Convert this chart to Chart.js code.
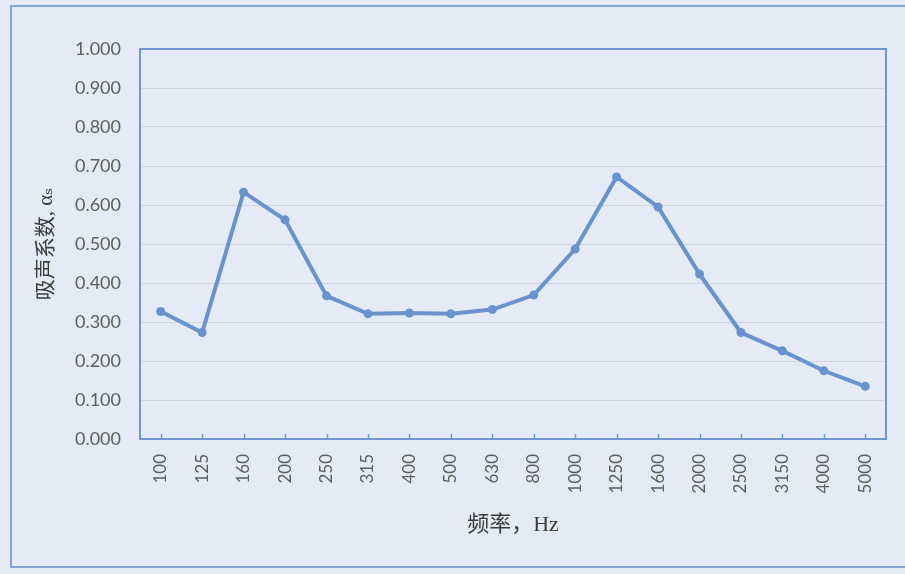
<!DOCTYPE html>
<html>
<head>
<meta charset="utf-8">
<script src="https://cdn.jsdelivr.net/npm/chart.js@4/dist/chart.umd.min.js"></script>
<style>
  html, body { margin: 0; padding: 0; background: #e4ebf7; }
  #wrap { width: 905px; height: 574px; position: relative; }
</style>
</head>
<body>
<div id="wrap"><canvas id="c" width="905" height="574"></canvas></div>
<script>
// ---- data ----
const frequencies = ['100','125','160','200','250','315','400','500','630','800','1000','1250','1600','2000','2500','3150','4000','5000'];
const absorption  = [0.327,0.273,0.633,0.562,0.367,0.321,0.323,0.321,0.332,0.369,0.487,0.672,0.595,0.423,0.273,0.226,0.175,0.135];
const yMin = 0.0, yMax = 1.0, yStep = 0.1;
const yTitle = '吸声系数, αₛ';
const xTitle = '频率，Hz';

const lineColor = '#6a93cd';
const axisColor = '#6f98d0';

const framePlugin = {
  id: 'framePlugin',
  beforeDraw(chart) {
    const ctx = chart.ctx;
    ctx.save();
    ctx.fillStyle = '#e4ebf7';
    ctx.fillRect(0, 0, chart.width, chart.height);
    ctx.strokeStyle = '#82a6d8';
    ctx.lineWidth = 2;
    ctx.strokeRect(11, 6, chart.width, 561);
    ctx.restore();
  },
  afterDatasetsDraw(chart) {
    const ctx = chart.ctx;
    const a = chart.chartArea;
    const xs = chart.scales.x;
    ctx.save();
    ctx.strokeStyle = axisColor;
    ctx.lineWidth = 2;
    ctx.strokeRect(a.left, a.top, a.right - a.left, a.bottom - a.top);
    ctx.lineWidth = 1.5;
    for (let i = 0; i < frequencies.length; i++) {
      const x = Math.round(xs.getPixelForValue(i)) + 0.5;
      ctx.beginPath();
      ctx.moveTo(x, a.bottom);
      ctx.lineTo(x, a.bottom - 5);
      ctx.stroke();
    }
    ctx.restore();
  }
};

new Chart(document.getElementById('c'), {
  type: 'line',
  data: {
    labels: frequencies,
    datasets: [{
      data: absorption,
      borderColor: lineColor,
      backgroundColor: lineColor,
      borderWidth: 4,
      pointRadius: 4.5,
      pointBackgroundColor: lineColor,
      pointBorderColor: lineColor,
      pointBorderWidth: 0,
      tension: 0,
      fill: false
    }]
  },
  options: {
    responsive: false,
    animation: false,
    devicePixelRatio: 1,
    layout: { padding: { top: 49, right: 19, left: 0, bottom: 0 } },
    plugins: {
      legend: { display: false },
      tooltip: { enabled: false }
    },
    scales: {
      x: {
        type: 'category',
        offset: true,
        afterFit(scale) { scale.height = 135; },
        grid: { display: false, drawTicks: false },
        border: { display: false },
        ticks: {
          minRotation: 90, maxRotation: 90,
          autoSkip: false,
          padding: 15,
          color: '#5e5e5e',
          font: { family: 'Lato, "Liberation Sans", sans-serif', size: 17 }
        },
        title: {
          display: true,
          text: xTitle,
          color: '#3c3c3c',
          font: { family: '"Liberation Serif", "Noto Sans CJK SC", serif', size: 22 },
          padding: { top: 0, bottom: 36 }
        }
      },
      y: {
        min: yMin, max: yMax,
        afterFit(scale) { scale.width = 140; },
        grid: { color: '#cfd6e2', lineWidth: 1, drawTicks: false },
        border: { display: false },
        ticks: {
          stepSize: yStep,
          padding: 19,
          color: '#5e5e5e',
          font: { family: 'Lato, "Liberation Sans", sans-serif', size: 18 },
          callback: (v) => Number(v).toFixed(3)
        },
        title: {
          display: true,
          text: yTitle,
          color: '#3c3c3c',
          font: { family: '"Liberation Serif", "Noto Sans CJK SC", "DejaVu Serif", serif', size: 21 },
          padding: { top: 34, bottom: 0 }
        }
      }
    }
  },
  plugins: [framePlugin]
});
</script>
</body>
</html>
